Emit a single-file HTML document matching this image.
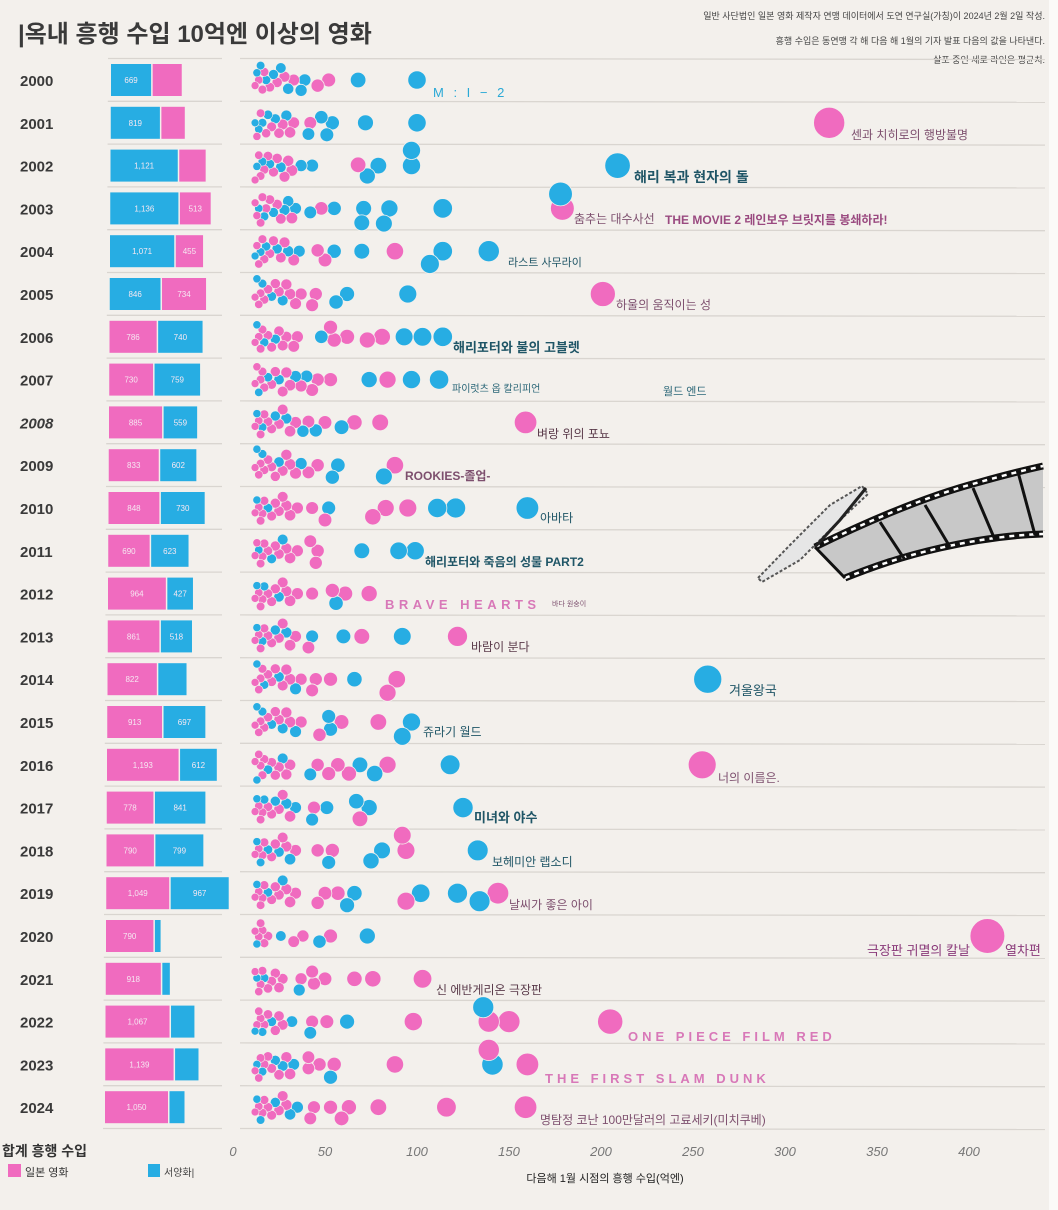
<!DOCTYPE html>
<html><head><meta charset="utf-8">
<style>
html,body{margin:0;padding:0;background:#f3f0ec;}
body{width:1058px;height:1210px;overflow:hidden;font-family:"Liberation Sans","Noto Sans CJK KR",sans-serif;}
svg{display:block}
</style></head>
<body>
<svg id="chart" width="1058" height="1210" viewBox="0 0 1058 1210" xmlns="http://www.w3.org/2000/svg">
<rect x="0" y="0" width="1058" height="1210" fill="#f3f0ec"/>
<rect x="1049" y="0" width="9" height="1210" fill="#fbfaf8"/>
<text x="18" y="42" font-size="24" font-weight="bold" fill="#3a3a3a" font-family="Liberation Sans,Noto Sans CJK KR,sans-serif">|옥내 흥행 수입 10억엔 이상의 영화</text>
<g font-size="9" fill="#444" text-anchor="end">
<text x="1045" y="19">일반 사단법인 일본 영화 제작자 연맹 데이터에서 도연 연구실(가칭)이 2024년 2월 2일 작성.</text>
<text x="1045" y="44">흥행 수입은 동연맹 각 해 다음 해 1월의 기자 발표 다음의 값을 나타낸다.</text>
<text x="1045" y="63">살포 중인 세로 라인은 평균치.</text>
</g>
<g id="grid"></g>
<g id="bars"></g>
<g id="bubbles"></g>
<g id="labels"></g>
<g id="film">
  <path d="M758,578 L790,545 L830,505 L862,486 L868,494 L838,522 L800,560 L762,582 Z" fill="#e6e6e6" stroke="#555" stroke-width="2" stroke-dasharray="3 2"/>
  <path d="M815,547 C870,520 930,495 980,482 C1005,475 1025,470 1043,466 L1043,534 C1010,535 975,540 940,548 C900,557 870,568 845,578 Z" fill="#c8c8c8"/>
  <path d="M815,547 C870,520 930,495 980,482 C1005,475 1025,470 1043,466" fill="none" stroke="#111" stroke-width="7"/>
  <path d="M815,547 C870,520 930,495 980,482 C1005,475 1025,470 1043,466" fill="none" stroke="#fff" stroke-width="2.5" stroke-dasharray="5 5"/>
  <path d="M845,578 C870,568 900,557 940,548 C975,540 1010,535 1043,534" fill="none" stroke="#111" stroke-width="7"/>
  <path d="M845,578 C870,568 900,557 940,548 C975,540 1010,535 1043,534" fill="none" stroke="#fff" stroke-width="2.5" stroke-dasharray="5 5"/>
  <path d="M815,547 L845,578 M880,522 L905,560 M925,505 L950,547 M973,488 L995,540 M1018,472 L1035,535" stroke="#111" stroke-width="3"/>
  <path d="M815,547 L840,520 L866,488" fill="none" stroke="#222" stroke-width="3"/>
</g>
<g id="axis"></g>
<g>
<text x="2" y="1156" font-size="14" font-weight="bold" fill="#333">합계 흥행 수입</text>
<rect x="8" y="1164" width="13" height="13" fill="#f06bbf"/>
<text x="25" y="1176" font-size="11" fill="#333">일본 영화</text>
<rect x="148" y="1164" width="12" height="13" fill="#27ade3"/>
<text x="164" y="1176" font-size="10" fill="#444">서양화|</text>
<text x="605" y="1182" font-size="11" fill="#222" text-anchor="middle">다음해 1월 시점의 흥행 수입(억엔)</text>
</g>
</svg>
<script>
const years = [2000,2001,2002,2003,2004,2005,2006,2007,2008,2009,2010,2011,2012,2013,2014,2015,2016,2017,2018,2019,2020,2021,2022,2023,2024];
const japaneseTotals = [485,390,440,513,455,734,786,730,885,833,848,690,964,861,822,913,1193,778,790,1049,790,918,1067,1139,1050];
const foreignTotals = [669,819,1121,1136,1071,846,740,759,559,602,730,623,427,518,470,697,612,841,799,967,95,125,390,390,250];
const japaneseShown = [0,0,0,1,1,1,1,1,1,1,1,1,1,1,1,1,1,1,1,1,1,1,1,1,1];
const foreignShown = [1,1,1,1,1,1,1,1,1,1,1,1,1,1,0,1,1,1,1,1,0,0,0,0,0];
const xTicks = [0,50,100,150,200,250,300,350,400];
const bigMovies = [
"68f,100f,52j,46j,39f,33j,37f",
"324j,100f,72f,54f,51f,48f,42j,33j,41f",
"68j,73f,79f,97f,97f,209f,43f,37f",
"55f,70f,71f,82f,85f,114f,178f,179j,48j,42f",
"88j,107f,114f,139f,70f,55f,50j,46j",
"95f,62f,56f,45j,43j,201j",
"114f,103f,93f,81j,73j,62j,55j,53j,48f,35j,33j",
"112f,97f,84j,74f,53j,46j,43j,40f",
"159j,80j,66j,59f,50j,45f,38f,41j",
"88j,82f,57f,54f,46j,41j",
"160f,121f,111f,95j,83j,76j,52f,50j,43j",
"99f,90f,70f,46j,45j,42j,35j",
"74j,61j,56f,54j,43j,35j",
"122j,92f,70j,60f,43f,41j",
"258f,84j,89j,66f,53j,45j,43j",
"97f,92f,79j,59j,52f,47j,53f",
"255j,118f,84j,77f,69f,63j,57j,52j,46j,42f",
"125f,74f,69j,67f,51f,44j,43f",
"133f,94j,92j,81f,75f,54j,52f,46j",
"144j,134f,122f,102f,94j,66f,62f,57j,50j,46j",
"410j,73f,53j,47f,38j,33j,26f",
"103j,76j,66j,50j,43j,44j,36f,37j",
"205j,150j,139j,136f,98j,62f,51j,42f,43j,32f",
"160j,139j,141f,88j,55j,53f,47j,41j,41j,33f",
"159j,116j,79j,63j,59j,53j,44j,42j,35f"
];
const smallMovies = [
"12j,13f,14j,15f,16j,17j,18f,20j,22f,24j,26f,28j,30f",
"12f,13j,14f,15j,16f,18j,19f,21j,23f,25j,27j,29f,31j",
"12j,13f,14j,15j,16f,17j,19j,20f,22j,24j,26f,28j,30j,32j",
"12j,13j,14f,15j,16j,17f,18j,20j,22f,24j,26j,28f,30f,32j,34f",
"12f,13j,14j,15f,16j,17j,18f,20j,22j,24f,26j,28j,30f,33j,36f",
"12j,13f,14j,15j,16f,17j,19j,21f,23j,25j,27f,29j,31j,34j,37j",
"12j,13f,14j,15j,16j,17f,19j,21j,23f,25j,27j,29j",
"12j,13j,14f,15j,16j,17j,19f,21j,23j,25f,27j,29j,31j,34f,37j",
"12j,13f,14j,15j,16f,17j,19j,21j,23f,25j,27j,29f,31j,34j",
"12j,13f,14j,15j,16f,17j,19j,21j,23j,25f,27j,29j,31j,34j,37f",
"12j,13f,14j,15j,16j,17j,19f,21j,23j,25j,27j,29j,31j,35j",
"12j,13j,14f,15j,16j,17j,19j,21f,23j,25j,27f,29j,31j",
"12j,13f,14j,15j,16j,17f,19j,21j,23j,25f,27j,29j,31j",
"12j,13f,14j,15j,16f,17j,19j,21j,23f,25j,27j,29f,31j,34j",
"12j,13f,14j,15j,16j,17f,19j,21j,23j,25f,27j,29j,31j,34f,37j",
"12j,13f,14j,15j,16f,17j,19j,21f,23j,25j,27f,29j,31j,34f,37j",
"12j,13f,14j,15j,16j,17j,19f,21j,23j,25j,27f,29j,31j",
"12j,13f,14j,15j,16j,17f,19j,21j,23f,25j,27j,29f,31j,34f",
"12j,13f,14j,15f,16j,17j,19f,21j,23j,25f,27j,29j,31f,34j",
"12j,13f,14j,15j,16j,17j,19f,21j,23j,25j,27f,29j,31j,34j",
"12j,13f,14j,15j,16j,17j,19j",
"12j,13f,14j,15j,16j,17f,19j,21j,23j,25j,27j",
"12f,13j,14j,15j,16f,17j,19j,21f,23j,25j,27j",
"12j,13f,14j,15j,16f,17j,19j,21j,23f,25j,27f,29j,31j",
"12j,13f,14j,15f,16j,17j,19j,21j,23f,25j,27j,29j,31f"
];
const labelTexts = [
[0,"M : I − 2",433,97,"#2aa9d6",13,"normal",3],
[1,"센과 치히로의 행방불명",851,139,"#7d4f6e",12,"normal",0],
[2,"해리 복과 현자의 돌",634,182,"#1f5566",14,"bold",0],
[3,"춤추는 대수사선",574,223,"#7d4f6e",12,"normal",0],
[3,"THE MOVIE 2 레인보우 브릿지를 봉쇄하라!",665,224,"#9a4a80",12,"bold",0],
[4,"라스트 사무라이",508,266,"#1f5566",11,"normal",0],
[5,"하울의 움직이는 성",616,309,"#7d4f6e",12,"normal",0],
[6,"해리포터와 불의 고블렛",453,352,"#1f5566",13,"bold",0],
[7,"파이럿츠 옵 칼리피언",452,392,"#2a6677",10,"normal",0],
[7,"월드 엔드",663,395,"#2a6677",11,"normal",0],
[8,"벼랑 위의 포뇨",537,438,"#5a3a4a",12,"normal",0],
[9,"ROOKIES-졸업-",405,480,"#7d4f6e",12,"bold",0],
[10,"아바타",540,522,"#1f5566",12,"normal",0],
[11,"해리포터와 죽음의 성물 PART2",425,566,"#1f5566",12,"bold",0],
[12,"BRAVE HEARTS",385,609,"#d878b8",13,"bold",4.5],
[12,"바다 원숭이",552,606,"#7d4f6e",7,"normal",0],
[13,"바람이 분다",471,651,"#5a3a4a",12,"normal",0],
[14,"겨울왕국",729,695,"#1f5566",13,"normal",0],
[15,"쥬라기 월드",423,736,"#1f5566",12,"normal",0],
[16,"너의 이름은.",718,782,"#7d4f6e",12,"normal",0],
[17,"미녀와 야수",474,822,"#1f5566",13,"bold",0],
[18,"보헤미안 랩소디",492,866,"#1f5566",12,"normal",0],
[19,"날씨가 좋은 아이",509,909,"#7d4f6e",12,"normal",0],
[20,"극장판 귀멸의 칼날",867,955,"#8a3a7a",13,"normal",0],
[20,"열차편",1005,955,"#8a3a7a",13,"normal",0],
[21,"신 에반게리온 극장판",436,994,"#5a3a4a",12,"normal",0],
[22,"ONE PIECE FILM RED",628,1041,"#d878b8",13,"bold",4],
[23,"THE FIRST SLAM DUNK",545,1083,"#d878b8",13,"bold",4],
[24,"명탐정 코난 100만달러의 고료세키(미치쿠베)",540,1124,"#7d4f6e",12,"normal",0]
];

const NS="http://www.w3.org/2000/svg";
const PINK="#f06bbf", BLUE="#27ade3";
const xScale = v => 233 + v*1.84;
const rowY = i => 80 + i*42.8;
const rScale = v => 1.2 + 0.8*Math.sqrt(v);
const barScale = v => v*0.06;
function mk(tag, attrs, parent){const e=document.createElementNS(NS,tag);for(const k in attrs)e.setAttribute(k,attrs[k]);parent.appendChild(e);return e;}
function parse(s){return s.split(",").map(t=>({v:parseFloat(t),t:t.slice(-1)}));}

const grid=document.getElementById("grid"), bars=document.getElementById("bars"), bub=document.getElementById("bubbles"), lab=document.getElementById("labels"), axis=document.getElementById("axis");

for(let i=0;i<=years.length;i++){
  const y=rowY(i)-21.5;
  const l1=mk("line",{x1:108-i*0.2,x2:222,y1:y,y2:y,stroke:"#d9d5d0","stroke-width":1.3},grid);
  
  
  const l2=mk("line",{x1:240,x2:1045,y1:y,y2:y+1,stroke:"#d9d5d0","stroke-width":1.3},grid);
  
  
}

years.forEach((yr,i)=>{
  const cy=rowY(i);
  const yt=mk("text",{x:20,y:cy+6,"font-size":15,"font-weight":"bold",fill:"#3a3a3a","font-style":yr===2008?"italic":"normal"},bars);
  yt.textContent=yr;
  
  
  let x=111-i*0.25;
  const segs = i<6 ? [["f",foreignTotals[i],foreignShown[i]],["j",japaneseTotals[i],japaneseShown[i]]] : [["j",japaneseTotals[i],japaneseShown[i]],["f",foreignTotals[i],foreignShown[i]]];
  segs.forEach(([t,v,show])=>{
    const w=barScale(v);
    const r=mk("rect",{x:x,y:cy-16,width:w,height:32,fill:t==="j"?PINK:BLUE},bars);
    
    
    if(show){
      const tx=mk("text",{x:x+w/2,y:cy+3,"font-size":8,fill:"#f6e8f2","text-anchor":"middle"},bars);
      tx.textContent=v.toLocaleString("en-US");
      
      
    }
    x+=w+1.5;
  });

  const items=parse(bigMovies[i]).concat(parse(smallMovies[i])).sort((a,b)=>b.v-a.v);
  const placed=[];
  items.forEach(it=>{
    const px=xScale(it.v), r=rScale(it.v);
    let best=0;
    for(let k=0;k<60;k++){
      const off=(k%2?1:-1)*Math.ceil(k/2)*0.8;
      if(Math.abs(off)>18-r*0.3){continue;}
      let ok=true;
      for(const p of placed){const dx=p.x-px,dy=p.y-(cy+off);if(dx*dx+dy*dy<(p.r+r-1.5)*(p.r+r-1.5)){ok=false;break;}}
      if(ok){best=off;break;}
      best=off;
    }
    placed.push({x:px,y:cy+best,r:r,t:it.t,v:it.v});
  });
  placed.forEach(p=>{
    const c=mk("circle",{cx:p.x,cy:p.y,r:p.r,fill:p.t==="j"?PINK:BLUE,stroke:"#f3f0ec","stroke-width":p.r<6?0.6:0.8},bub);
    
    
  });
});

labelTexts.forEach(L=>{
  const t=mk("text",{x:L[2],y:L[3],fill:L[4],"font-size":L[5],"font-weight":L[6],"letter-spacing":L[7]},lab);
  t.textContent=L[1];
  
  
});

xTicks.forEach(v=>{
  const t=mk("text",{x:xScale(v),y:1156,"font-size":13,"font-style":"italic",fill:"#777","text-anchor":"middle"},axis);
  t.textContent=v;
  
  
});
</script>
</body></html>
